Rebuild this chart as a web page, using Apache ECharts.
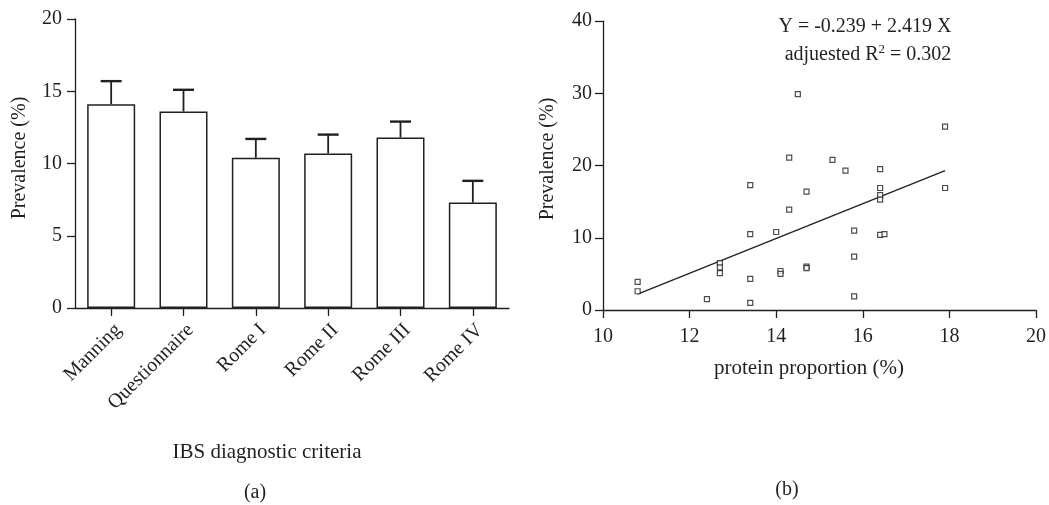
<!DOCTYPE html>
<html><head><meta charset="utf-8">
<script src="https://cdn.jsdelivr.net/npm/echarts@6/dist/echarts.min.js"></script>
<style>html,body{margin:0;padding:0;background:#fff}#c{width:1049px;height:505px}</style>
</head><body><div id="c"></div>
<script>
// Panel (a)
var criteria = ['Manning', 'Questionnaire', 'Rome I', 'Rome II', 'Rome III', 'Rome IV'];
var prevalence = [14.1, 13.6, 10.4, 10.7, 11.8, 7.3];
var errorUpper = [15.7, 15.1, 11.7, 12.0, 12.9, 8.8];
var leftTicks = [0, 5, 10, 15, 20];
// Panel (b)
var proteinX = [10.8, 10.8, 12.4, 12.7, 12.7, 12.7, 13.4, 13.4, 13.4, 13.4, 14.0, 14.1, 14.1, 14.3, 14.3, 14.5, 14.7, 14.7, 14.7, 15.3, 15.6, 15.8, 15.8, 15.8, 16.4, 16.4, 16.4, 16.4, 16.4, 16.5, 17.9, 17.9];
var prevalenceY = [3.9, 2.6, 1.5, 6.5, 5.9, 5.1, 17.3, 10.5, 4.3, 1.0, 10.8, 5.4, 5.0, 21.1, 13.9, 29.9, 16.4, 6.0, 5.8, 20.8, 19.3, 11.0, 7.4, 1.9, 19.5, 16.9, 15.9, 15.3, 10.4, 10.5, 25.4, 16.9];
var fitX = [10.8, 17.9];
var fitY = [2.2, 19.3];
var rightXTicks = [10, 12, 14, 16, 18, 20];
var rightYTicks = [0, 10, 20, 30, 40];

var FONT = '"Liberation Serif", "DejaVu Serif", serif';
var INK = '#231f20';
var FS = 20;

var chart = echarts.init(document.getElementById('c'));
var axisCommon = {
  axisLine: { show: true, lineStyle: { color: INK, width: 1.3 } },
  axisTick: { show: true, length: 8, lineStyle: { color: INK, width: 1.3 } },
  splitLine: { show: false },
  axisLabel: { color: INK, fontFamily: FONT, fontSize: FS }
};
function merge(a, b) { return echarts.util.merge(echarts.util.clone(a), b, true); }

chart.setOption({
  animation: false,
  backgroundColor: '#fff',
  grid: [
    { left: 75, top: 19, width: 434, height: 289 },
    { left: 603, top: 21.2, width: 433, height: 288.8 }
  ],
  xAxis: [
    merge(axisCommon, {
      type: 'category', gridIndex: 0, data: criteria,
      axisTick: { alignWithLabel: true },
      axisLabel: { rotate: 45, margin: 12, interval: 0, align: 'right', verticalAlign: 'top' }
    }),
    merge(axisCommon, {
      type: 'value', gridIndex: 1, min: 10, max: 20, interval: 2,
      axisLabel: { margin: 17 }
    })
  ],
  yAxis: [
    merge(axisCommon, {
      type: 'value', gridIndex: 0, min: 0, max: 20, interval: 5,
      axisLabel: { margin: 13 }
    }),
    merge(axisCommon, {
      type: 'value', gridIndex: 1, min: 0, max: 40, interval: 10,
      axisLabel: { margin: 11 }
    })
  ],
  series: [
    {
      type: 'bar', xAxisIndex: 0, yAxisIndex: 0, data: prevalence,
      barWidth: 48,
      itemStyle: { color: '#fff', borderColor: INK, borderWidth: 1.5 }
    },
    {
      type: 'custom', xAxisIndex: 0, yAxisIndex: 0,
      data: criteria.map(function (c, i) { return [i, prevalence[i], errorUpper[i]]; }),
      encode: { x: 0, y: [1, 2] },
      renderItem: function (params, api) {
        var base = api.coord([api.value(0), api.value(1)]);
        var top = api.coord([api.value(0), api.value(2)]);
        var half = 10.5;
        return {
          type: 'group', children: [
            { type: 'line', shape: { x1: base[0], y1: base[1], x2: top[0], y2: top[1] }, style: { stroke: INK, lineWidth: 1.8 } },
            { type: 'line', shape: { x1: top[0] - half, y1: top[1], x2: top[0] + half, y2: top[1] }, style: { stroke: INK, lineWidth: 2.4 } }
          ]
        };
      },
      z: 3
    },
    {
      type: 'scatter', xAxisIndex: 1, yAxisIndex: 1,
      data: proteinX.map(function (x, i) { return [x, prevalenceY[i]]; }),
      symbol: 'rect', symbolSize: 5,
      itemStyle: { color: '#fff', borderColor: INK, borderWidth: 1.2 }, z: 3
    },
    {
      type: 'line', xAxisIndex: 1, yAxisIndex: 1,
      data: fitX.map(function (x, i) { return [x, fitY[i]]; }),
      showSymbol: false, symbol: 'none',
      lineStyle: { color: INK, width: 1.3 }, z: 2
    }
  ],
  graphic: [
    { type: 'text', x: 20, y: 158, rotation: Math.PI / 2,
      style: { text: 'Prevalence (%)', font: FS + 'px ' + FONT, fill: INK, align: 'center', verticalAlign: 'middle' } },
    { type: 'text', x: 267, y: 452,
      style: { text: 'IBS diagnostic criteria', font: '21px ' + FONT, fill: INK, align: 'center', verticalAlign: 'middle' } },
    { type: 'text', x: 255, y: 493,
      style: { text: '(a)', font: FS + 'px ' + FONT, fill: INK, align: 'center', verticalAlign: 'middle' } },
    { type: 'text', x: 548, y: 159, rotation: Math.PI / 2,
      style: { text: 'Prevalence (%)', font: FS + 'px ' + FONT, fill: INK, align: 'center', verticalAlign: 'middle' } },
    { type: 'text', x: 809, y: 368,
      style: { text: 'protein proportion (%)', font: '21px ' + FONT, fill: INK, align: 'center', verticalAlign: 'middle' } },
    { type: 'text', x: 787, y: 490,
      style: { text: '(b)', font: FS + 'px ' + FONT, fill: INK, align: 'center', verticalAlign: 'middle' } },
    { type: 'text', x: 865, y: 27,
      style: { text: 'Y = -0.239 + 2.419 X', font: FS + 'px ' + FONT, fill: INK, align: 'center', verticalAlign: 'middle' } },
    { type: 'text', x: 868, y: 55,
      style: { text: 'adjuested R{sup|2} = 0.302', font: FS + 'px ' + FONT, fill: INK, align: 'center', verticalAlign: 'middle',
        rich: { sup: { fontSize: 13, fontFamily: FONT, fill: INK, verticalAlign: 'top', padding: [0, 0, 10, 0] } } } }
  ]
});
</script></body></html>
